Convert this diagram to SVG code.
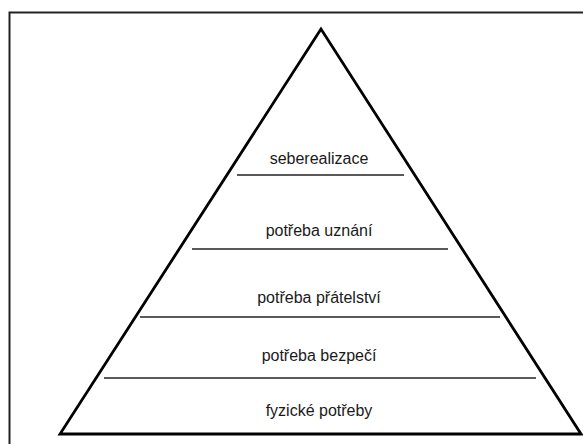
<svg xmlns="http://www.w3.org/2000/svg" width="583" height="444" viewBox="0 0 583 444">
<style>
.lbl{font-family:"Liberation Sans",Arial,sans-serif;font-size:16px;fill:#1a1a1a;text-anchor:middle}
.div{stroke:#222;stroke-width:1.5;fill:none}
</style>
<rect x="0" y="0" width="583" height="444" fill="#fff"/>
<path d="M9.5,444 V12.5 H583" fill="none" stroke="#222" stroke-width="2"/>
<g id="pyramid">
<polygon points="321,29 60,434 581,434" fill="none" stroke="#000" stroke-width="2.8" stroke-linejoin="miter"/>
</g>
<g id="connectors">
<line class="div" x1="237" y1="175" x2="404" y2="175"/>
<line class="div" x1="192" y1="249" x2="448" y2="249"/>
<line class="div" x1="140" y1="317" x2="500" y2="317"/>
<line class="div" x1="104" y1="378" x2="536" y2="378"/>
</g>
<g id="level5"><text class="lbl" x="319" y="164">seberealizace</text></g>
<g id="level4"><text class="lbl" x="319" y="236">potřeba uznání</text></g>
<g id="level3"><text class="lbl" x="319" y="303">potřeba přátelství</text></g>
<g id="level2"><text class="lbl" x="319" y="361">potřeba bezpečí</text></g>
<g id="level1"><text class="lbl" x="319" y="416">fyzické potřeby</text></g>
</svg>
